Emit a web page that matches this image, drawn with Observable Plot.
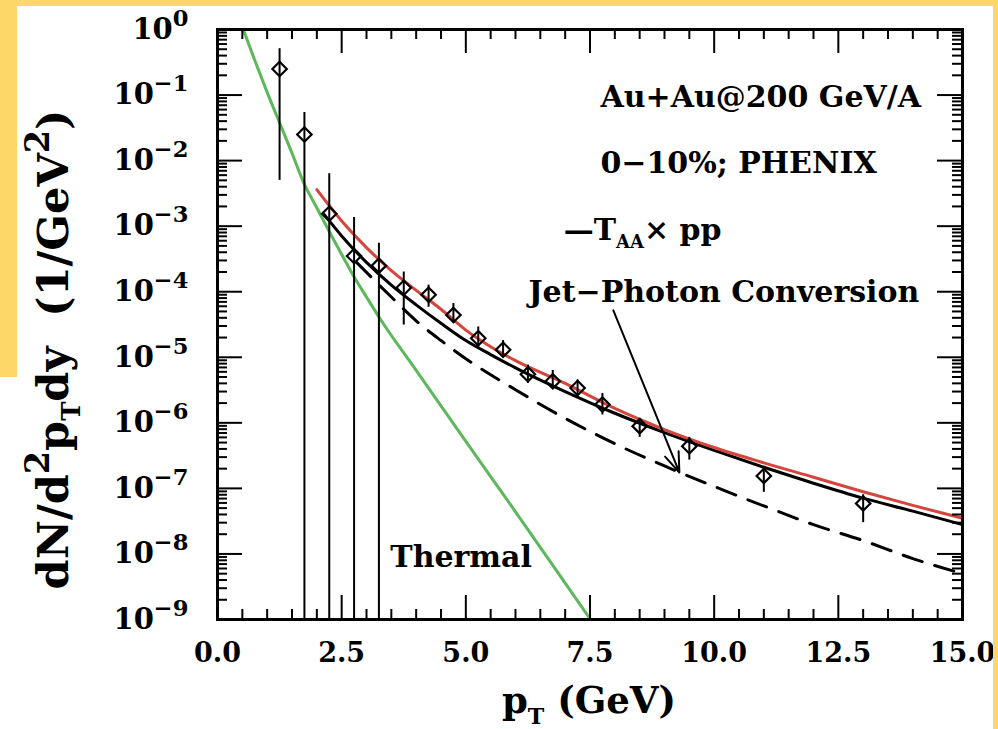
<!DOCTYPE html>
<html><head><meta charset="utf-8">
<script src="https://cdn.jsdelivr.net/npm/d3@7"></script>
<script src="https://cdn.jsdelivr.net/npm/@observablehq/plot@0.6"></script>
<style>
html,body{margin:0;padding:0;background:#fff;}
body{width:998px;height:729px;overflow:hidden;position:relative;}
#chart{position:absolute;left:0;top:0;}
.band{position:absolute;background:#fdd767;z-index:5;}
</style></head><body>
<div id="chart"></div>
<div class="band" style="left:0;top:0;width:998px;height:6px"></div>
<div class="band" style="left:0;top:0;width:17px;height:377px"></div>
<div class="band" style="left:993px;top:0;width:5px;height:729px"></div>
<script>
// ---- PHENIX direct photon data (Au+Au 200 GeV, 0-10%) ----
const ptX   = [1.25, 1.75, 2.25, 2.75, 3.25, 3.75, 4.25, 4.75, 5.25, 5.75, 6.25, 6.75, 7.25, 7.75, 8.5, 9.5, 11, 13];
const ptY   = [2.5e-1, 2.5e-2, 1.55e-3, 3.5e-4, 2.5e-4, 1.15e-4, 9e-5, 4.4e-5, 1.95e-5, 1.3e-5, 5.5e-6, 4.3e-6, 3.4e-6, 1.9e-6, 8.9e-7, 4.4e-7, 1.55e-7, 5.9e-8];
const errLo = [5e-3, 1e-9, 1e-9, 1e-9, 1e-9, 3.1e-5, 5.8e-5, 3.3e-5, 1.38e-5, 1.07e-5, 4e-6, 3.4e-6, 2.45e-6, 1.32e-6, 6e-7, 2.7e-7, 8.7e-8, 3e-8];
const errHi = [5.1e-1, 5.4e-2, 6.3e-3, 1.35e-3, 5.5e-4, 2e-4, 1.26e-4, 6.6e-5, 2.9e-5, 1.8e-5, 7.6e-6, 6.3e-6, 4.5e-6, 2.8e-6, 1.17e-6, 6e-7, 2.1e-7, 8e-8];

// ---- Thermal (green) ----
const thermalX = [0.52, 0.75, 1.0, 1.29, 1.5, 1.73, 2.0, 2.25, 2.5, 2.74, 3.0, 3.28, 4.0, 5.0, 6.0, 7.0, 7.51];
const thermalY = [1.0, 3.4e-1, 1.1e-1, 3.2e-2, 1.3e-2, 4.7e-3, 1.9e-3, 8.3e-4, 3.7e-4, 1.74e-4, 8.3e-5, 3.8e-5, 6.3e-6, 5.2e-7, 4.4e-8, 3.6e-9, 1.0e-9];

// ---- Total (red) ----
const totalX = [2.0, 2.5, 3.0, 3.5, 4.0, 4.5, 5.0, 5.5, 6.0, 7.0, 8.0, 9.0, 10.0, 11.0, 12.0, 13.0, 14.0, 15.0];
const totalY = [3.6e-3, 1.2e-3, 4.7e-4, 2.1e-4, 1.05e-4, 5.4e-5, 2.6e-5, 1.45e-5, 8.9e-6, 4.0e-6, 1.66e-6, 7.9e-7, 4.2e-7, 2.45e-7, 1.48e-7, 8.9e-8, 5.5e-8, 3.5e-8];

// ---- T_AA x pp (black solid) ----
const taaX = [2.15, 2.5, 3.0, 3.5, 4.0, 4.5, 5.0, 5.5, 6.0, 7.0, 8.0, 9.0, 10.0, 11.0, 12.0, 13.0, 14.0, 15.0];
const taaY = [1.5e-3, 7.1e-4, 2.8e-4, 1.26e-4, 6.3e-5, 3.3e-5, 1.8e-5, 1.1e-5, 6.9e-6, 3.0e-6, 1.4e-6, 7.1e-7, 3.8e-7, 2.1e-7, 1.2e-7, 7.1e-8, 4.5e-8, 2.8e-8];

// ---- Jet-photon conversion (black dashed) ----
const jetX = [2.8, 3.5, 4.0, 4.5, 5.0, 6.0, 7.0, 8.0, 9.0, 10.0, 11.0, 12.0, 13.0, 14.0, 15.0];
const jetY = [2.8e-4, 8.3e-5, 3.6e-5, 1.8e-5, 9.5e-6, 3.2e-6, 1.17e-6, 4.8e-7, 2.2e-7, 1.07e-7, 5.4e-8, 2.8e-8, 1.6e-8, 8.5e-9, 5.0e-9];

// ---- ticks ----
const xTicks = [0, 2.5, 5, 7.5, 10, 12.5, 15];
const xMinor = [0.5, 1, 1.5, 2, 3, 3.5, 4, 4.5, 5.5, 6, 6.5, 7, 8, 8.5, 9, 9.5, 10.5, 11, 11.5, 12, 13, 13.5, 14, 14.5];
const yExponents = [0, -1, -2, -3, -4, -5, -6, -7, -8, -9];
const yTicks = [1, 1e-1, 1e-2, 1e-3, 1e-4, 1e-5, 1e-6, 1e-7, 1e-8, 1e-9];
const yMantissas = [2, 3, 4, 5, 6, 7, 8, 9];

// ---- annotations ----
const labelText = ["Au+Au@200 GeV/A", "0\u221210%; PHENIX", "\u2014T_{AA}\u00d7 pp", "Jet\u2212Photon Conversion", "Thermal"];
const labelX    = [7.71, 7.71, 6.97, 6.26, 3.48];
const labelY    = [9.2e-2, 9.0e-3, 8.6e-4, 9.7e-5, 8.8e-9];
const arrowFrom = {x: 7.97, y: 5.2e-5};
const arrowTo   = {x: 9.30, y: 1.75e-7};

// ---- build ----
const W = 998, H = 729, ML = 217, MR = 36, MT = 29, MB = 110;
const PW = W - ML - MR, PH = H - MT - MB;
const FONT = "DejaVu Serif";
const points = ptX.map((x, i) => ({x, y: ptY[i], lo: errLo[i], hi: errHi[i]}));
const series = (xs, ys) => xs.map((x, i) => ({x, y: ys[i]}));
const yMinor = [];
for (const t of yTicks.slice(1)) for (const m of yMantissas) yMinor.push(t * m);
const labels = labelText.map((text, i) => ({text, x: labelX[i], y: labelY[i]}));
const expOf = new Map(yTicks.map((t, i) => [t, yExponents[i]]));

const tk = {stroke: "black", strokeWidth: 2};
const plot = Plot.plot({
  width: W, height: H,
  marginLeft: ML, marginRight: MR, marginTop: MT, marginBottom: MB,
  style: {fontFamily: FONT, fontWeight: "bold", background: "transparent", color: "black"},
  x: {domain: [0, 15], label: null},
  y: {type: "log", domain: [1e-9, 1], label: null},
  marks: [
    Plot.line(series(thermalX, thermalY), {x: "x", y: "y", stroke: "#5cb85a", strokeWidth: 3, curve: "monotone-x", clip: true}),
    Plot.line(series(jetX, jetY), {x: "x", y: "y", stroke: "black", strokeWidth: 3, strokeDasharray: "20,13", curve: "monotone-x"}),
    Plot.line(series(taaX, taaY), {x: "x", y: "y", stroke: "black", strokeWidth: 3, curve: "monotone-x"}),
    Plot.line(series(totalX, totalY), {x: "x", y: "y", stroke: "#d6453d", strokeWidth: 3, curve: "monotone-x"}),
    Plot.ruleX(points, {x: "x", y1: "lo", y2: "hi", stroke: "black", strokeWidth: 2}),
    Plot.dot(points, {x: "x", y: "y", symbol: "diamond2", r: 6.5, stroke: "black", strokeWidth: 2.2, fill: "none"}),
    // inward ticks on all four sides
    Plot.tickX(xTicks, {x: d => d, insetTop: PH - 24, ...tk}),
    Plot.tickX(xTicks, {x: d => d, insetBottom: PH - 24, ...tk}),
    Plot.tickX(xMinor, {x: d => d, insetTop: PH - 10, ...tk}),
    Plot.tickX(xMinor, {x: d => d, insetBottom: PH - 10, ...tk}),
    Plot.tickY(yTicks, {y: d => d, insetRight: PW - 25, ...tk}),
    Plot.tickY(yTicks, {y: d => d, insetLeft: PW - 25, ...tk}),
    Plot.tickY(yMinor, {y: d => d, insetRight: PW - 10, ...tk}),
    Plot.tickY(yMinor, {y: d => d, insetLeft: PW - 10, ...tk}),
    Plot.frame({stroke: "black", strokeWidth: 3}),
    Plot.axisX({ticks: xTicks, tickSize: 0, tickPadding: 23, tickFormat: d3.format(".1f"), fontSize: 27, label: null}),
    Plot.axisY({ticks: yTicks, tickSize: 0, tickPadding: 29, tickFormat: d => "10^{" + String(expOf.get(d)).replace("-", "\u2212") + "}", fontSize: 29, label: null}),
    Plot.text(labels, {x: "x", y: "y", text: "text", textAnchor: "start", lineAnchor: "middle", fontSize: 30}),
    Plot.arrow([{x1: arrowFrom.x, y1: arrowFrom.y, x2: arrowTo.x, y2: arrowTo.y}], {x1: "x1", y1: "y1", x2: "x2", y2: "y2", stroke: "black", strokeWidth: 2, headLength: 16, headAngle: 40}),
    Plot.text(["p_{T} (GeV)"], {frameAnchor: "bottom", text: d => d, dy: 82, dx: -1, fontSize: 37, textAnchor: "middle", lineAnchor: "middle"}),
    Plot.text(["dN/d^{2}p_{T}dy  (1/GeV^{2})"], {frameAnchor: "left", text: d => d, dx: -163, dy: 25, rotate: -90, fontSize: 43, textAnchor: "middle", lineAnchor: "middle"})
  ]
});
document.getElementById("chart").appendChild(plot);

// turn ^{..} and _{..} markup into real superscript / subscript tspans
function richify(el) {
  const s = el.textContent;
  if (!/[\^_]\{/.test(s)) return;
  const fs = parseFloat(getComputedStyle(el).fontSize) || 27;
  const parts = [];
  const re = /([\^_])\{([^}]*)\}/g;
  let last = 0, m;
  while ((m = re.exec(s))) {
    if (m.index > last) parts.push({t: s.slice(last, m.index), k: ""});
    parts.push({t: m[2], k: m[1]});
    last = re.lastIndex;
  }
  if (last < s.length) parts.push({t: s.slice(last), k: ""});
  while (el.firstChild) el.removeChild(el.firstChild);
  let cur = 0;
  for (const p of parts) {
    const ts = document.createElementNS("http://www.w3.org/2000/svg", "tspan");
    let target = 0, size = fs;
    if (p.k === "^") { target = -0.45 * fs; size = 0.78 * fs; }
    if (p.k === "_") { target = 0.28 * fs; size = 0.6 * fs; }
    ts.setAttribute("dy", (target - cur).toFixed(2));
    ts.setAttribute("font-size", size.toFixed(2));
    ts.textContent = p.t;
    cur = target;
    el.appendChild(ts);
  }
}
plot.querySelectorAll("text").forEach(richify);
</script>
</body></html>
